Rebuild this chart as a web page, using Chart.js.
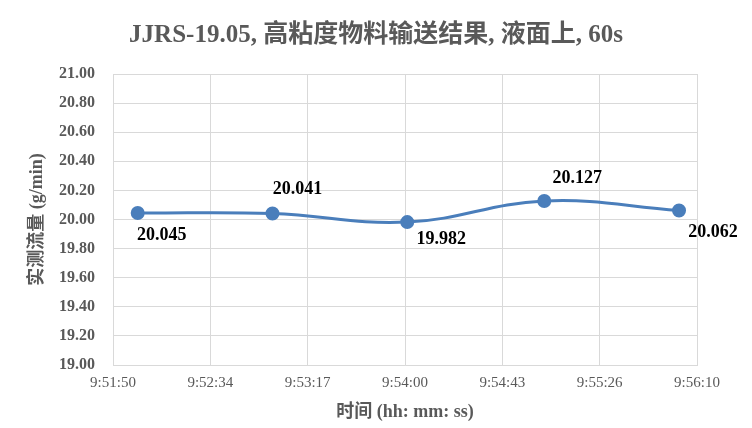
<!DOCTYPE html>
<html>
<head>
<meta charset="utf-8">
<script src="https://cdn.jsdelivr.net/npm/chart.js@4.4.1/dist/chart.umd.min.js"></script>
<style>
  html, body { margin: 0; padding: 0; background: #ffffff; }
  #wrap { width: 752px; height: 428px; }
</style>
</head>
<body>
<div id="wrap"><canvas id="flowChart" width="752" height="428"></canvas></div>
<script>
/* JJRS-19.05 flow measurement, smooth line with point labels */

const axisStart = '9:51:50';
const axisEnd = '9:56:10';
const xTickLabels = ['9:51:50', '9:52:34', '9:53:17', '9:54:00', '9:54:43', '9:55:26', '9:56:10'];
const sampleTimes = ['9:52:01', '9:53:01', '9:54:01', '9:55:02', '9:56:02'];
const flowValues = [20.045, 20.041, 19.982, 20.127, 20.062];
const yTicks = [19.0, 19.2, 19.4, 19.6, 19.8, 20.0, 20.2, 20.4, 20.6, 20.8, 21.0];

const serif = '"Liberation Serif", "Times New Roman", "Noto Sans CJK SC", serif';
const grey = '#595959';
const gridGrey = '#d9d9d9';
const lineBlue = '#4a7ebb';

function toSec(t) {
    const p = t.split(':').map(Number);
    return p[0] * 3600 + p[1] * 60 + p[2];
}

const t0 = toSec(axisStart);
const span = toSec(axisEnd) - t0;
const points = sampleTimes.map((t, i) => ({ x: toSec(t) - t0, y: flowValues[i] }));

// value labels, offset from each point (dx, dy in px)
const labelPlugin = {
    id: 'valueLabels',
    afterDatasetsDraw(chart, args, opts) {
        const ctx = chart.ctx;
        const meta = chart.getDatasetMeta(0);
        ctx.save();
        ctx.font = 'bold 18px ' + serif;
        ctx.fillStyle = '#000000';
        ctx.textAlign = 'center';
        ctx.textBaseline = 'middle';
        meta.data.forEach((pt, i) => {
            const off = opts.offsets[i];
            ctx.fillText(flowValues[i].toFixed(3), pt.x + off[0], pt.y + off[1]);
        });
        ctx.restore();
    }
};

new Chart(document.getElementById('flowChart'), {
    type: 'line',
    data: {
        datasets: [{
            data: points,
            borderColor: lineBlue,
            backgroundColor: lineBlue,
            borderWidth: 3,
            tension: 0.4,
            pointRadius: 5.5,
            pointBackgroundColor: lineBlue,
            pointBorderColor: lineBlue,
            fill: false
        }]
    },
    options: {
        responsive: false,
        animation: false,
        layout: { padding: 0 },
        plugins: {
            legend: { display: false },
            tooltip: { enabled: false },
            title: {
                display: true,
                text: 'JJRS-19.05, 高粘度物料输送结果, 液面上, 60s',
                color: grey,
                font: { family: serif, size: 25, weight: 'bold' },
                padding: { top: 21, bottom: 23 }
            },
            valueLabels: {
                offsets: [[24, 22], [25, -24], [34, 17], [33, -23], [34, 22]]
            }
        },
        scales: {
            x: {
                type: 'linear',
                min: 0,
                max: span,
                afterBuildTicks: s => { s.ticks = xTickLabels.map((_, i) => ({ value: i * span / (xTickLabels.length - 1) })); },
                afterFit: s => { s.height = 63; },
                ticks: {
                    color: grey,
                    font: { family: serif, size: 15 },
                    padding: 9,
                    maxRotation: 0,
                    autoSkip: false,
                    callback: (v, i) => xTickLabels[i]
                },
                grid: { color: gridGrey, drawTicks: false },
                border: { color: gridGrey },
                title: {
                    display: true,
                    text: '时间 (hh: mm: ss)',
                    color: grey,
                    font: { family: serif, size: 18, weight: 'bold' },
                    padding: { top: 4, bottom: 5 }
                }
            },
            y: {
                min: 19,
                max: 21,
                afterBuildTicks: s => { s.ticks = yTicks.map(v => ({ value: v })); },
                afterFit: s => { s.width = 113; },
                ticks: {
                    color: grey,
                    font: { family: serif, size: 16, weight: 'bold' },
                    padding: 18,
                    callback: v => v.toFixed(2)
                },
                grid: { color: gridGrey, drawTicks: false },
                border: { color: gridGrey },
                title: {
                    display: true,
                    text: '实测流量 (g/min)',
                    color: grey,
                    font: { family: serif, size: 18, weight: 'bold' },
                    padding: { top: 27, bottom: 0 }
                }
            },
            // empty right margin so the title centres on the whole canvas
            yRight: {
                position: 'right',
                min: 19,
                max: 21,
                afterFit: s => { s.width = 55; },
                ticks: { display: false },
                grid: { display: false },
                border: { display: false }
            }
        }
    },
    plugins: [labelPlugin]
});
</script>
</body>
</html>
